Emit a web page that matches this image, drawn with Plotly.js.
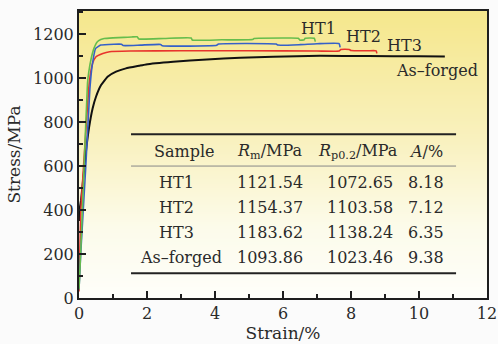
<!DOCTYPE html>
<html>
<head>
<meta charset="utf-8">
<script src="https://cdn.plot.ly/plotly-3.0.1.min.js"></script>
<style>html,body{margin:0;padding:0;background:#fbfbfb;}#chart{width:498px;height:344px;}</style>
</head>
<body>
<div id="chart"></div>
<script>
// ---- data ----
const greenStrain = [0, 0.05, 0.15, 0.25, 0.29, 0.36, 0.44, 0.54, 0.64, 0.74, 1.0, 1.32, 1.55, 1.71, 1.76, 2.5, 3.3, 3.33, 4.2, 5.1, 5.15, 6.0, 6.45, 6.5, 6.62, 6.65, 6.92, 6.95];
const greenStress = [40, 205, 600, 976, 1030, 1090, 1135, 1165, 1175, 1180, 1183, 1185, 1187, 1188, 1178, 1180, 1182, 1173, 1174, 1175, 1180, 1182, 1181, 1172, 1174, 1181, 1181, 1166];

const blueStrain = [0, 0.05, 0.2, 0.32, 0.39, 0.49, 0.64, 1.03, 1.25, 1.3, 1.81, 2.4, 2.45, 4.05, 4.1, 5.8, 5.85, 6.5, 7.0, 7.65, 7.68];
const blueStress = [40, 200, 600, 950, 1059, 1135, 1150, 1154, 1154, 1148, 1150, 1153, 1147, 1149, 1155, 1155, 1150, 1152, 1156, 1157, 1140];

const redStrain = [0, 0.06, 0.21, 0.3, 0.4, 0.5, 0.7, 0.9, 1.5, 3.0, 5.0, 7.0, 7.65, 7.7, 7.95, 8.0, 8.5, 8.74, 8.76];
const redStress = [30, 415, 779, 976, 1067, 1097, 1112, 1120, 1123, 1124, 1124, 1123, 1123, 1130, 1130, 1125, 1124, 1124, 1112];

const blackStrain = [0, 0.03, 0.06, 0.13, 0.21, 0.3, 0.4, 0.5, 0.65, 0.84, 1.09, 1.38, 1.77, 1.97, 2.77, 3.76, 4.74, 5.71, 7.09, 8.5, 10.0, 10.76];
const blackStress = [350, 415, 445, 551, 673, 779, 862, 915, 968, 1006, 1029, 1044, 1056, 1062, 1074, 1085, 1092, 1097, 1101, 1100, 1099, 1098];

const curveLabels = ['HT1', 'HT2', 'HT3', 'As–forged'];

const tableHeader = ['Sample', '<i>R</i><sub>m</sub>/MPa', '<i>R</i><sub>p0.2</sub>/MPa', '<i>A</i>/%'];
const tableSamples = ['HT1', 'HT2', 'HT3', 'As–forged'];
const tableRm = [1121.54, 1154.37, 1183.62, 1093.86];
const tableRp = [1072.65, 1103.58, 1138.24, 1023.46];
const tableA = [8.18, 7.12, 6.35, 9.38];

// ---- styles / positions ----
const FONT = 'DejaVu Serif, Liberation Serif, serif';
const TXT = '#2a2a2a';
const AX = '#1e1e1e';

const bg = {
  type: 'heatmap', x: [0, 12], y: [0, 1305], z: [[0, 0], [1, 1]],
  zsmooth: 'best', showscale: false, hoverinfo: 'skip',
  colorscale: [[0, '#fefefa'], [0.25, '#fcfbea'], [0.55, '#f9f1bf'], [1, '#f5e78c']]
};

function line(x, y, color, w) {
  return { type: 'scatter', mode: 'lines', x: x, y: y, line: { color: color, width: w, shape: 'spline', smoothing: 0.4 }, hoverinfo: 'skip' };
}

const traces = [
  bg,
  line(blackStrain, blackStress, '#111111', 2),
  line(redStrain, redStress, '#e8342c', 1.6),
  line(blueStrain, blueStress, '#3560c8', 1.6),
  line(greenStrain, greenStress, '#66bd4c', 1.6)
];

// label positions (data units)
const labelPos = [[7.03, 1227], [8.37, 1191], [9.56, 1150], [10.53, 1036]];
const annotations = [];
curveLabels.forEach((t, i) => annotations.push({
  text: t, x: labelPos[i][0], y: labelPos[i][1], xref: 'x', yref: 'y',
  showarrow: false, font: { family: FONT, size: 16, color: TXT }
}));

const colX = [2.88, 5.62, 8.26, 10.21];
const headerX = [3.09, 5.6, 8.2, 10.21];
const headerY = 668;
const rowY = [525, 411, 298, 184];
tableHeader.forEach((t, j) => annotations.push({
  text: t, x: headerX[j], y: headerY, xref: 'x', yref: 'y', showarrow: false,
  font: { family: FONT, size: 16, color: TXT }
}));
tableSamples.forEach((s, i) => {
  const cells = [s, tableRm[i].toFixed(2), tableRp[i].toFixed(2), tableA[i].toFixed(2)];
  cells.forEach((c, j) => annotations.push({
    text: c, x: (j === 0 && i === 3) ? 3.0 : colX[j], y: rowY[i], xref: 'x', yref: 'y', showarrow: false,
    font: { family: FONT, size: 16, color: TXT }
  }));
});

const shapes = [
  { type: 'line', xref: 'x', yref: 'y', x0: 1.53, x1: 11.09, y0: 745, y1: 745, line: { color: '#222', width: 2 } },
  { type: 'line', xref: 'x', yref: 'y', x0: 1.53, x1: 11.09, y0: 600, y1: 600, line: { color: '#888', width: 1 } },
  { type: 'line', xref: 'x', yref: 'y', x0: 1.53, x1: 11.09, y0: 112, y1: 112, line: { color: '#222', width: 2 } }
];

const axisCommon = {
  showgrid: false, zeroline: false, showline: true, linewidth: 2, linecolor: AX, mirror: true,
  ticks: 'inside', ticklen: 7, tickwidth: 1.5, tickcolor: AX,
  tickfont: { family: FONT, size: 16, color: TXT }
};

const layout = {
  width: 498, height: 344,
  margin: { l: 79, r: 11, t: 11, b: 46 },
  paper_bgcolor: '#fbfbfb', plot_bgcolor: '#ffffff',
  showlegend: false,
  xaxis: Object.assign({}, axisCommon, {
    range: [0, 12], dtick: 2, tick0: 0,
    minor: { dtick: 1, ticks: 'inside', ticklen: 4, tickwidth: 1.5, tickcolor: AX },
    title: { text: 'Strain/%', font: { family: FONT, size: 17, color: TXT }, standoff: 4 }
  }),
  yaxis: Object.assign({}, axisCommon, {
    range: [0, 1305], dtick: 200, tick0: 0,
    minor: { dtick: 100, ticks: 'inside', ticklen: 4, tickwidth: 1.5, tickcolor: AX },
    title: { text: 'Stress/MPa', font: { family: FONT, size: 17, color: TXT }, standoff: 8 }
  }),
  annotations: annotations,
  shapes: shapes
};

Plotly.newPlot('chart', traces, layout, { displayModeBar: false, staticPlot: true });
</script>
</body>
</html>
